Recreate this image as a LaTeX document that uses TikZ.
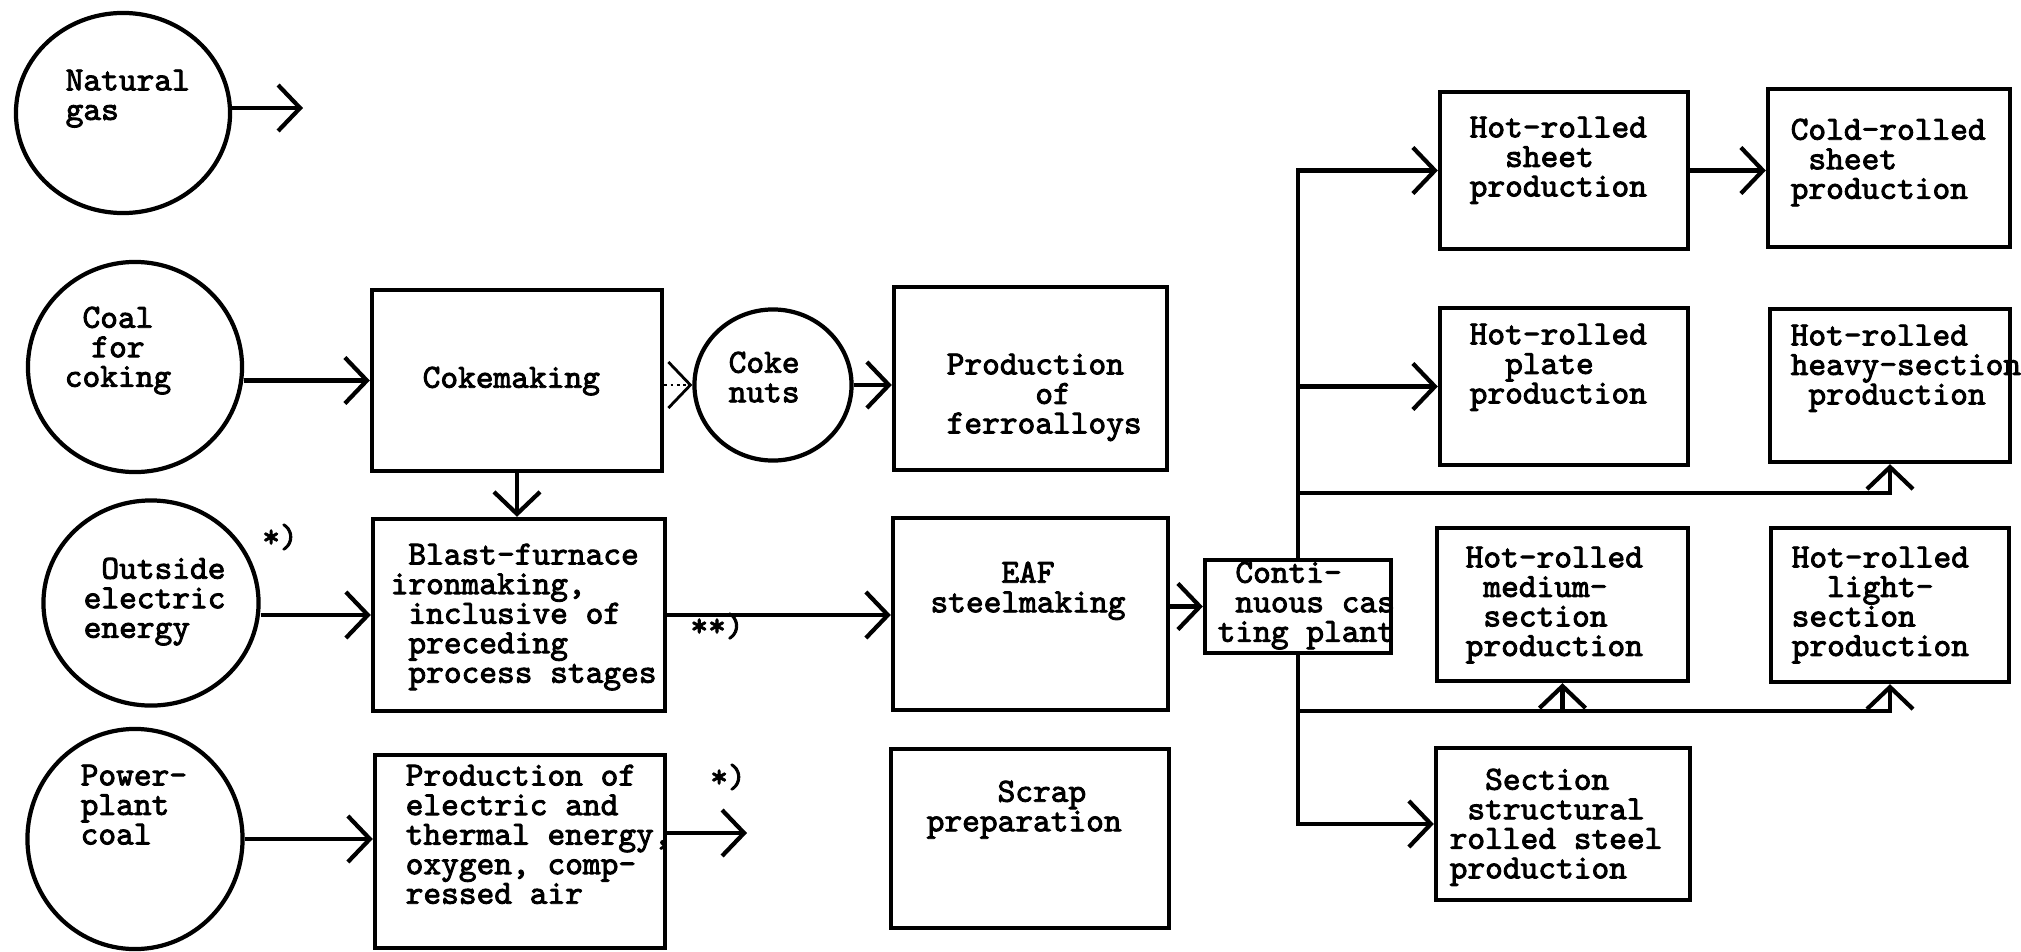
\documentclass[tikz,border=0pt]{standalone}
\usepackage{fontspec}
\usetikzlibrary{arrows.meta,shapes.geometric}
\newfontfamily\typewfont{lmmono10-regular}[Extension=.otf,FakeBold=2.6]
\newcommand{\flowfont}{\typewfont\fontsize{9.6}{8.4}\selectfont}

\begin{document}
\begin{tikzpicture}[x=0.01cm,y=-0.01cm,
    every node/.style={inner sep=0pt,font=\flowfont},
    src/.style={ellipse,draw,line width=1.2pt},
    stage/.style={draw,line width=1.2pt},
    txt/.style={anchor=north west,align=left},
    ctxt/.style={anchor=north,align=center},
    >={Straight Barb[length=0.22cm,width=0.46cm]}]
  \useasboundingbox (0,0) rectangle (2021,951);
  % inputs
  \node[src,minimum width=2.14cm,minimum height=2.00cm] (gas) at (123,113) {};
  \node[src,minimum width=2.14cm,minimum height=2.10cm] (coal) at (135,367) {};
  \node[src,minimum width=2.15cm,minimum height=2.05cm] (outside) at (151,603) {};
  \node[src,minimum width=2.15cm,minimum height=2.20cm] (ppcoal) at (135,839) {};
  \node[src,minimum width=1.57cm,minimum height=1.51cm] (nuts) at (773,385) {};
  % process stages
  \node[stage,minimum width=2.90cm,minimum height=1.81cm] (coke) at (517,380.5) {};
  \node[stage,minimum width=2.92cm,minimum height=1.92cm] (bf) at (519,615) {};
  \node[stage,minimum width=2.90cm,minimum height=1.93cm] (energy) at (520,851.5) {};
  \node[stage,minimum width=2.73cm,minimum height=1.83cm] (ferro) at (1030.5,378.5) {};
  \node[stage,minimum width=2.75cm,minimum height=1.92cm] (eaf) at (1030.5,614) {};
  \node[stage,minimum width=2.78cm,minimum height=1.79cm] (scrap) at (1030,838.5) {};
  \node[stage,minimum width=1.86cm,minimum height=0.93cm] (cast) at (1298,606.5) {};
  % rolling mills
  \node[stage,minimum width=2.48cm,minimum height=1.57cm] (sheet) at (1564,170.5) {};
  \node[stage,minimum width=2.48cm,minimum height=1.57cm] (plate) at (1564,386.5) {};
  \node[stage,minimum width=2.51cm,minimum height=1.53cm] (medium) at (1562.5,604.5) {};
  \node[stage,minimum width=2.54cm,minimum height=1.52cm] (section) at (1563,824) {};
  \node[stage,minimum width=2.42cm,minimum height=1.58cm] (cold) at (1889,168) {};
  \node[stage,minimum width=2.40cm,minimum height=1.53cm] (heavy) at (1890,385.5) {};
  \node[stage,minimum width=2.38cm,minimum height=1.54cm] (light) at (1890,605) {};
  % labels
  \node[txt] (gas-t) at (65,69) {Natural\\gas};
  \node[ctxt] (coal-t) at (118,306) {Coal\\for\\coking};
  \node[txt] (outside-t) at (83,557) {~Outside\\electric\\energy};
  \node[txt] (ppcoal-t) at (80,764) {Power-\\plant\\coal};
  \node[txt] (coke-t) at (422,366) {Cokemaking};
  \node[txt] (bf-t) at (390,543) {~Blast-furnace\\ironmaking,\\~inclusive of\\~preceding\\~process stages};
  \node[txt] (energy-t) at (405,764) {Production of\\electric and\\thermal energy,\\oxygen, comp-\\ressed air};
  \node[txt] (nuts-t) at (728,351) {Coke\\nuts};
  \node[txt] (ferro-t) at (946,353) {Production\\~~~~~of\\ferroalloys};
  \node[ctxt] (eaf-t) at (1028,561) {EAF\\steelmaking};
  \node[txt] (scrap-t) at (926,780) {~~~~Scrap\\preparation};
  \node[txt] (cast-t) at (1217,561) {~Conti-\\~nuous cas\\ting plant};
  \node[txt] (sheet-t) at (1469,116) {Hot-rolled\\~~sheet\\production};
  \node[txt] (plate-t) at (1469,323) {Hot-rolled\\~~plate\\production};
  \node[txt] (medium-t) at (1465,546) {Hot-rolled\\~medium-\\~section\\production};
  \node[txt] (section-t) at (1449,768) {~~Section\\~structural\\rolled steel\\production};
  \node[txt] (cold-t) at (1790,118) {Cold-rolled\\~sheet\\production};
  \node[txt] (heavy-t) at (1790,324) {Hot-rolled\\heavy-section\\~production};
  \node[txt] (light-t) at (1791,546) {Hot-rolled\\~~light-\\section\\production};
  \node (note1) at (280,537) {*)};
  \node (note2) at (717,626) {**)};
  \node (note3) at (728,777) {*)};
  % free ends and bends
  \coordinate (gas-out) at (303,108);
  \coordinate (energy-out) at (747,833);
  \coordinate (heavy-in) at (1890,493);
  \coordinate (medium-in) at (1562.5,711);
  \coordinate (light-in) at (1890,711);
  \begin{scope}[->,line width=1.2pt]
    \draw (gas.east |- gas-out) to (gas-out);
    \draw (coal.east |- coke.west) to (coke.west);
    \draw (coke.south) to (coke.south |- bf.north);
    \draw (outside.east |- bf.west) to (bf.west);
    \draw (ppcoal.east) to (ppcoal.east -| energy.west);
    \draw (energy.east |- energy-out) to (energy-out);
    \draw[densely dotted,line width=0.8pt] (coke.east |- nuts.west) to (nuts.west);
    \draw (nuts.east) to (nuts.east -| ferro.west);
    \draw (bf.east) to (bf.east -| eaf.west);
    \draw (eaf.east |- cast.west) to (cast.west);
    \draw (cast.north) |- (sheet.west);
    \draw (cast.north) |- (plate.west);
    \draw (cast.north) |- (heavy-in) -- (heavy.south);
    \draw (cast.south) |- (medium-in) -- (medium.south);
    \draw (cast.south) |- (light-in) -- (light.south);
    \draw (cast.south) |- (section.west);
    \draw (sheet.east) to (sheet.east -| cold.west);
  \end{scope}
\end{tikzpicture}
\end{document}
